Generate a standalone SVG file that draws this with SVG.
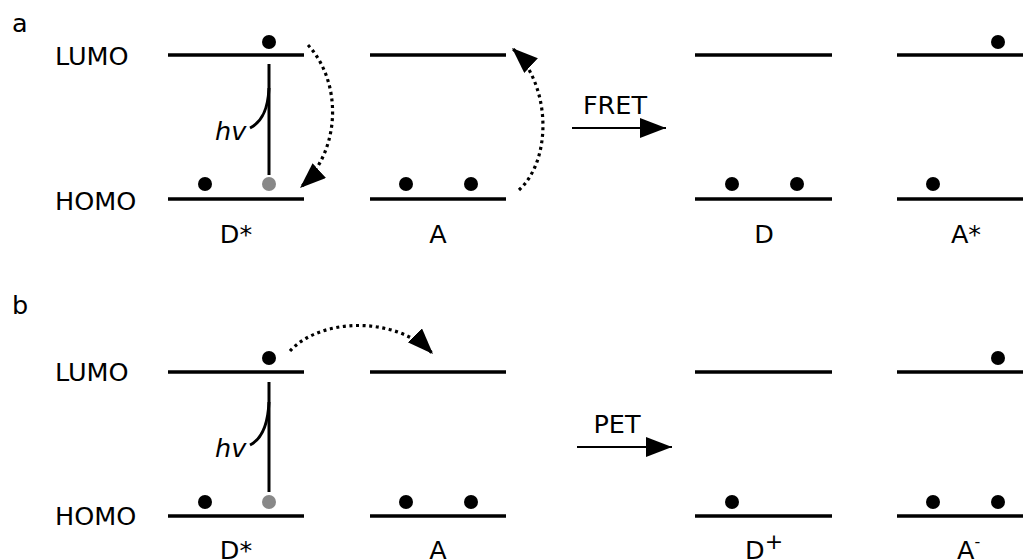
<svg xmlns="http://www.w3.org/2000/svg" width="1023" height="559" viewBox="0 0 1023 559">
<style>
text{font-family:"DejaVu Sans","Liberation Sans",sans-serif;font-size:25.5px;fill:#000}
.lbl{text-anchor:middle}
.lvl{stroke:#000;stroke-width:3.5;fill:none}
.exc{stroke:#000;stroke-width:3;fill:none}
.dot{fill:#000}
.hole{fill:#888}
.dash{stroke:#000;stroke-width:3.2;fill:none;stroke-dasharray:3 3.6}
.solid{stroke:#000;stroke-width:2.2;fill:none}
</style>
<defs>
<marker id="ah" markerUnits="userSpaceOnUse" markerWidth="28" markerHeight="22" refX="26" refY="10" orient="auto" viewBox="0 0 28 22">
<path d="M0,0 L26,10 L0,20 Z" fill="#000"/>
</marker>
</defs>
<g id="panel-labels">
<text x="12" y="32">a</text>
<text x="12" y="314">b</text>
<text x="55" y="65">LUMO</text>
<text x="55" y="210">HOMO</text>
<text x="55" y="381">LUMO</text>
<text x="55" y="525">HOMO</text>
</g>
<g id="a-Dstar">
<line class="lvl" x1="168" y1="55" x2="304" y2="55"/>
<line class="lvl" x1="168" y1="199" x2="304" y2="199"/>
<circle class="dot" cx="269" cy="42" r="7"/>
<circle class="dot" cx="205" cy="184" r="7"/>
<circle class="hole" cx="269" cy="184" r="7"/>
<line class="exc" x1="269" y1="64" x2="269" y2="175"/>
<path class="exc" d="M269,88 C268,110 262,122 250,128"/>
<text x="215" y="140" font-style="italic">hv</text>
<text class="lbl" x="236" y="243">D*</text>
</g>
<g id="a-A">
<line class="lvl" x1="370" y1="55" x2="506" y2="55"/>
<line class="lvl" x1="370" y1="199" x2="506" y2="199"/>
<circle class="dot" cx="406" cy="184" r="7"/>
<circle class="dot" cx="471" cy="184" r="7"/>
<text class="lbl" x="438" y="243">A</text>
</g>
<g id="a-D">
<line class="lvl" x1="695" y1="55" x2="832" y2="55"/>
<line class="lvl" x1="695" y1="199" x2="832" y2="199"/>
<circle class="dot" cx="732" cy="184" r="7"/>
<circle class="dot" cx="797" cy="184" r="7"/>
<text class="lbl" x="764" y="243">D</text>
</g>
<g id="a-Astar">
<line class="lvl" x1="897" y1="55" x2="1033" y2="55"/>
<line class="lvl" x1="897" y1="199" x2="1033" y2="199"/>
<circle class="dot" cx="998" cy="42" r="7"/>
<circle class="dot" cx="933" cy="184" r="7"/>
<text class="lbl" x="966" y="243">A*</text>
</g>
<g id="b-Dstar">
<line class="lvl" x1="168" y1="372" x2="304" y2="372"/>
<line class="lvl" x1="168" y1="516" x2="304" y2="516"/>
<circle class="dot" cx="269" cy="358" r="7"/>
<circle class="dot" cx="205" cy="502" r="7"/>
<circle class="hole" cx="269" cy="502" r="7"/>
<line class="exc" x1="269" y1="382" x2="269" y2="492"/>
<path class="exc" d="M269,402 C268,424 262,439 250,445"/>
<text x="215" y="457" font-style="italic">hv</text>
<text class="lbl" x="236" y="559">D*</text>
</g>
<g id="b-A">
<line class="lvl" x1="370" y1="372" x2="506" y2="372"/>
<line class="lvl" x1="370" y1="516" x2="506" y2="516"/>
<circle class="dot" cx="406" cy="502" r="7"/>
<circle class="dot" cx="471" cy="502" r="7"/>
<text class="lbl" x="438" y="559">A</text>
</g>
<g id="b-Dplus">
<line class="lvl" x1="695" y1="372" x2="832" y2="372"/>
<line class="lvl" x1="695" y1="516" x2="832" y2="516"/>
<circle class="dot" cx="732" cy="502" r="7"/>
<text x="745" y="559">D<tspan font-size="22" dy="-10">+</tspan></text>
</g>
<g id="b-Aminus">
<line class="lvl" x1="897" y1="372" x2="1033" y2="372"/>
<line class="lvl" x1="897" y1="516" x2="1033" y2="516"/>
<circle class="dot" cx="998" cy="358" r="7"/>
<circle class="dot" cx="933" cy="502" r="7"/>
<circle class="dot" cx="998" cy="502" r="7"/>
<text x="957" y="559">A<tspan font-size="16" dy="-12">-</tspan></text>
</g>
<g id="connectors">
<path class="dash" d="M308,45 C342,82 342,150 300,188" marker-end="url(#ah)"/>
<path class="dash" d="M519,190 C552,160 552,85 512,48" marker-end="url(#ah)"/>
<path class="dash" d="M290,351 C320,318 395,315 433,354" marker-end="url(#ah)"/>
<line class="solid" x1="572" y1="128" x2="666" y2="128" marker-end="url(#ah)"/>
<text class="lbl" x="615" y="114">FRET</text>
<line class="solid" x1="577" y1="447" x2="672" y2="447" marker-end="url(#ah)"/>
<text class="lbl" x="617" y="433">PET</text>
</g>
</svg>
